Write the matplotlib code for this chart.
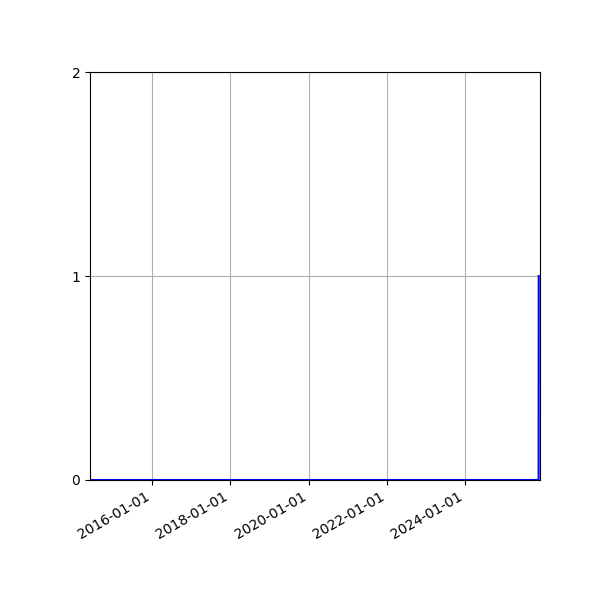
import pandas as pd
import matplotlib
matplotlib.use('Agg')
import matplotlib.pyplot as plt
import matplotlib.dates as mdates

# counts over time: flat at zero, one event at the very end
dates = pd.to_datetime(['2014-06-01', '2025-11-18', '2025-11-19'])
counts = [0, 0, 1]
x_start = pd.Timestamp('2014-06-01')
x_end = pd.Timestamp('2025-12-01')
y_ticks = [0, 1, 2]

fig = plt.figure(figsize=(6, 6), dpi=100)
ax = fig.add_subplot(111)
ax.plot(dates, counts, color='blue')
ax.set_xlim(x_start, x_end)
ax.set_ylim(0, 2)
ax.set_yticks(y_ticks)
ax.xaxis.set_major_locator(mdates.YearLocator(2))
ax.xaxis.set_major_formatter(mdates.DateFormatter('%Y-%m-%d'))
ax.grid(True)
fig.autofmt_xdate()
plt.subplots_adjust(left=0.15, right=0.9, top=0.88, bottom=0.2)

plt.savefig('out.png')
